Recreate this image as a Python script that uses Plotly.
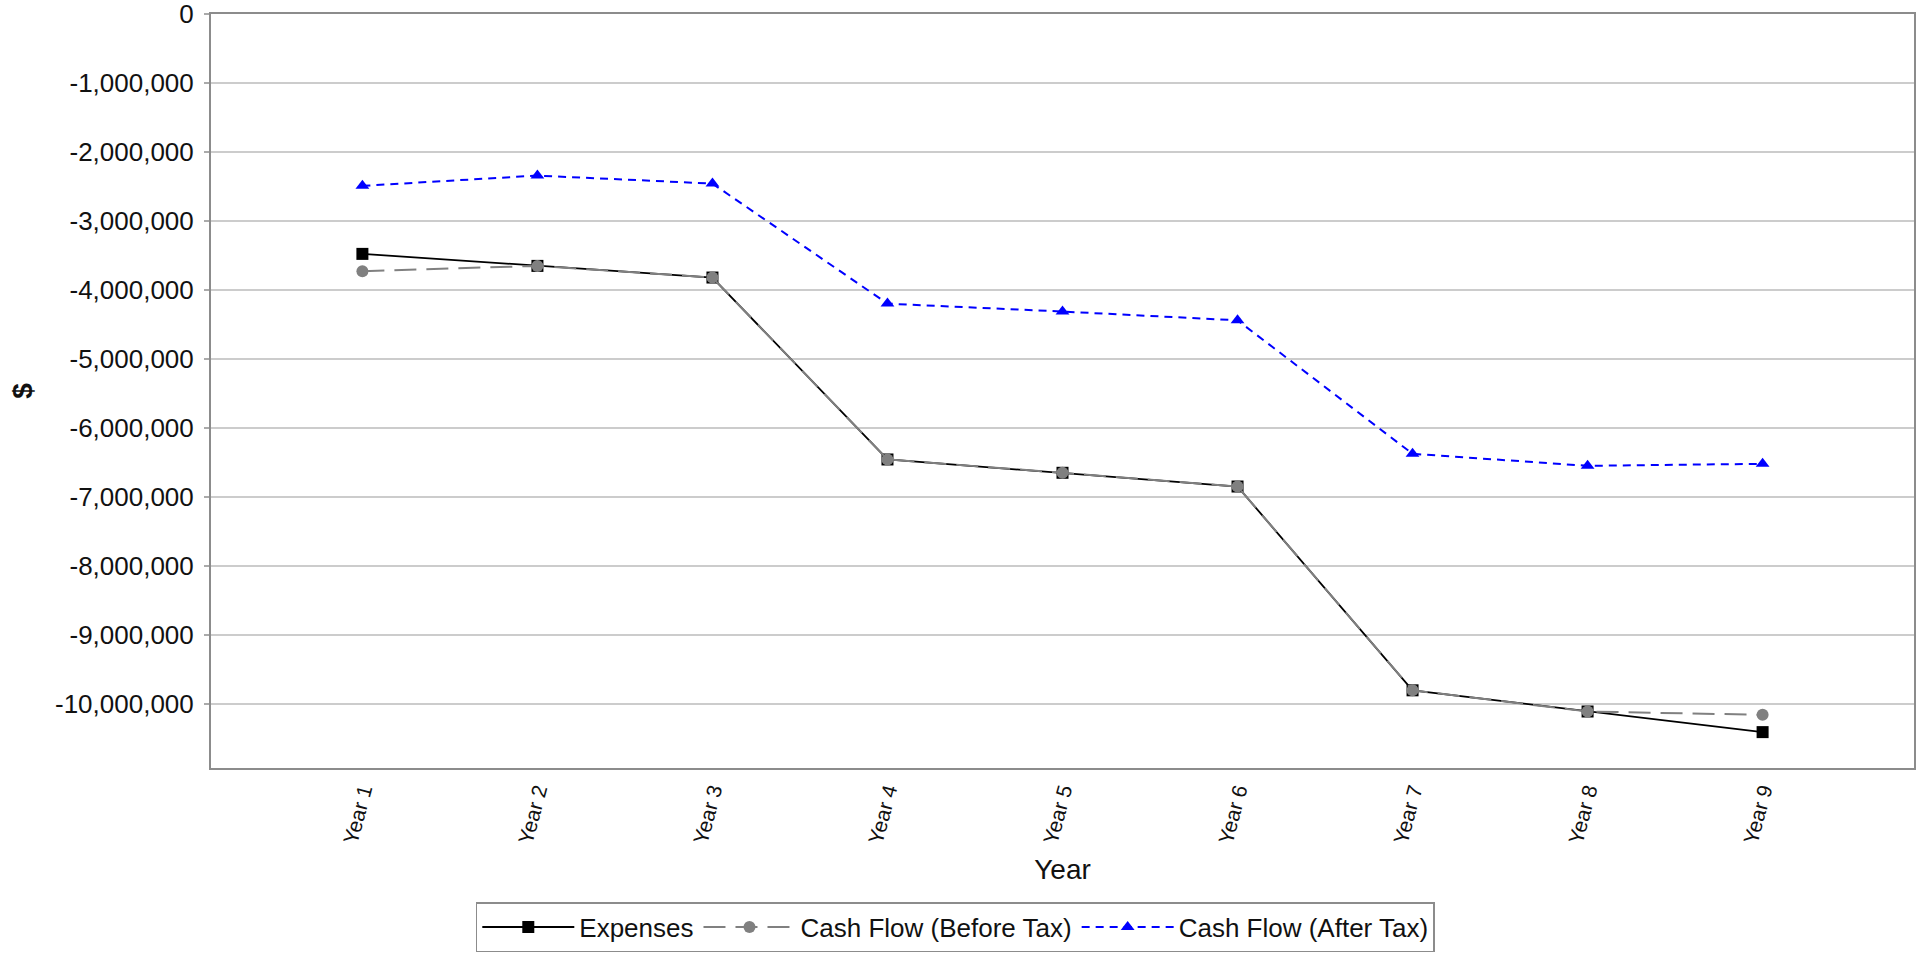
import plotly.graph_objects as go

years = ["Year 1", "Year 2", "Year 3", "Year 4", "Year 5", "Year 6", "Year 7", "Year 8", "Year 9"]
expenses = [-3474000, -3648000, -3817000, -6454000, -6647000, -6846000, -9800000, -10107000, -10406000]
cash_before_tax = [-3725000, -3648000, -3817000, -6454000, -6647000, -6846000, -9800000, -10107000, -10155000]
cash_after_tax = [-2488000, -2339000, -2455000, -4195000, -4310000, -4437000, -6372000, -6546000, -6517000]

y_tickvals = [0, -1000000, -2000000, -3000000, -4000000, -5000000, -6000000, -7000000, -8000000, -9000000, -10000000]
y_ticktext = ["0", "-1,000,000", "-2,000,000", "-3,000,000", "-4,000,000", "-5,000,000",
              "-6,000,000", "-7,000,000", "-8,000,000", "-9,000,000", "-10,000,000"]
y_range = [-10926000, 3000]

FONT = "Liberation Sans, Arial, sans-serif"

fig = go.Figure()
fig.add_trace(go.Scatter(
    x=years, y=expenses, name="Expenses", mode="lines+markers",
    line=dict(color="#000000", width=1.8),
    marker=dict(symbol="square", size=12, color="#000000"),
))
fig.add_trace(go.Scatter(
    x=years, y=cash_before_tax, name="Cash Flow (Before Tax)", mode="lines+markers",
    line=dict(color="#808080", width=2, dash="22px,10px"),
    marker=dict(symbol="circle", size=12, color="#808080"),
))
fig.add_trace(go.Scatter(
    x=years, y=cash_after_tax, name="Cash Flow (After Tax)", mode="lines+markers",
    line=dict(color="#0000ff", width=2, dash="8px,6px"),
    marker=dict(symbol="triangle-up", size=12, color="#0000ff"),
))

fig.update_layout(
    width=1926, height=954,
    margin=dict(l=211, r=12, t=14, b=186),
    paper_bgcolor="white", plot_bgcolor="white",
    font=dict(family=FONT, color="#111111", size=24),
    showlegend=True,
    legend=dict(
        orientation="h", xref="container", yref="container",
        x=0.496, xanchor="center", y=0.002, yanchor="bottom",
        bordercolor="#8c8c8c", borderwidth=1.5, bgcolor="white",
        font=dict(family=FONT, size=26, color="#111111"),
        itemwidth=92,
    ),
    xaxis=dict(
        type="category", range=[-0.865, 8.865],
        showgrid=False, showline=True, linecolor="#8c8c8c", linewidth=2, mirror=True,
        ticks="", tickangle=-75, tickfont=dict(size=21),
        title=dict(text="Year", font=dict(size=28), standoff=14),
        automargin=False,
    ),
    yaxis=dict(
        range=y_range, tickvals=y_tickvals, ticktext=y_ticktext,
        showgrid=True, gridcolor="#cccccc", gridwidth=2,
        showline=True, linecolor="#8c8c8c", linewidth=2, mirror=True,
        ticks="outside", ticklen=5, tickcolor="#aaaaaa", tickwidth=2,
        tickfont=dict(size=26), ticklabelstandoff=5, ticklabeloverflow="allow",
        title=dict(text="<b>$</b>", font=dict(size=28), standoff=14),
        zeroline=False, automargin=False,
    ),
)

fig.write_html("out.html", config={"displayModeBar": False},
               post_script="document.body.style.margin='0px';")
